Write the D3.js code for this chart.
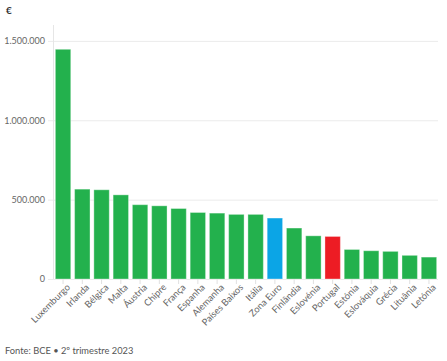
<!DOCTYPE html>
<html>
<head>
<meta charset="utf-8">
<script src="https://cdn.jsdelivr.net/npm/d3@7"></script>
<style>
  body { margin: 0; background: #fff; }
  text { font-family: Lato, "Open Sans", sans-serif; }
</style>
</head>
<body>
<svg id="chart"></svg>
<script>
var countries = ["Luxemburgo", "Irlanda", "Bélgica", "Malta", "Áustria", "Chipre", "França", "Espanha",
    "Alemanha", "Países Baixos", "Itália", "Zona Euro", "Finlândia", "Eslovénia", "Portugal",
    "Estónia", "Eslováquia", "Grécia", "Lituânia", "Letónia"];
var values = [1447000, 566000, 562000, 530000, 468000, 461000, 444000, 419000,
    415000, 407000, 407000, 384000, 321000, 272000, 268000,
    186000, 178000, 174000, 149000, 138000];
var yTicks = [0, 500000, 1000000, 1500000];

var width = 447;
var height = 361;
var margin = { top: 25, right: 9, bottom: 82, left: 54 };

var pt = d3.formatLocale({ decimal: ",", thousands: ".", grouping: [3], currency: ["€", ""] });
var fmt = pt.format(",");

var chart = d3.select("#chart")
    .attr("width", width)
    .attr("height", height);

var x = d3.scaleBand()
    .domain(countries)
    .range([margin.left, width - margin.right])
    .paddingInner(0.2)
    .paddingOuter(0.07);

var y = d3.scaleLinear()
    .domain([0, 1600000])
    .range([height - margin.bottom, margin.top]);

// gridlines + y labels
var yAxis = d3.axisLeft(y)
    .tickValues(yTicks)
    .tickFormat(fmt)
    .tickSize(-(width - margin.right - margin.left + 6));

var gy = chart.append("g")
    .attr("transform", "translate(" + (margin.left - 6) + ",0)")
    .call(yAxis);
gy.select(".domain").remove();
gy.selectAll("line").attr("stroke", "#ebebeb");
gy.selectAll("text")
    .attr("x", -3)
    .attr("fill", "#666")
    .style("font-size", "9px");

// vertical axis line
chart.append("line")
    .attr("x1", margin.left - 0.5).attr("x2", margin.left - 0.5)
    .attr("y1", margin.top).attr("y2", height - margin.bottom)
    .attr("stroke", "#e6e6e6");

// x axis
var xAxis = d3.axisBottom(x).tickSize(5).tickPadding(2);
var gx = chart.append("g")
    .attr("transform", "translate(0," + (height - margin.bottom) + ")")
    .call(xAxis);
gx.select(".domain").remove();
gx.selectAll("line").attr("stroke", "#e0e0e0");
gx.selectAll("text")
    .attr("fill", "#666")
    .style("font-size", "9.3px")
    .attr("text-anchor", "end")
    .attr("dx", "-0.1em")
    .attr("dy", "0.5em")
    .attr("transform", "rotate(-45)");

function barColor(d) {
    if (d === "Zona Euro") return "#0ba5e6";
    if (d === "Portugal") return "#ed1c24";
    return "#23b14d";
}

chart.selectAll(".bar")
    .data(values)
    .enter().append("rect")
    .attr("class", "bar")
    .attr("x", function (d, i) { return x(countries[i]); })
    .attr("y", function (d) { return y(d); })
    .attr("width", x.bandwidth())
    .attr("height", function (d) { return y(0) - y(d); })
    .attr("fill", function (d, i) { return barColor(countries[i]); })
    .attr("stroke", "rgba(255,255,255,0.35)")
    .attr("stroke-width", 1);

// unit label
chart.append("text")
    .attr("x", 6).attr("y", 14)
    .attr("fill", "#333")
    .style("font-size", "10px")
    .style("font-weight", "bold")
    .text("€");

// source
chart.append("text")
    .attr("x", 5).attr("y", 354)
    .attr("fill", "#555")
    .style("font-size", "9.3px")
    .text("Fonte: BCE • 2º trimestre 2023");
</script>
</body>
</html>
